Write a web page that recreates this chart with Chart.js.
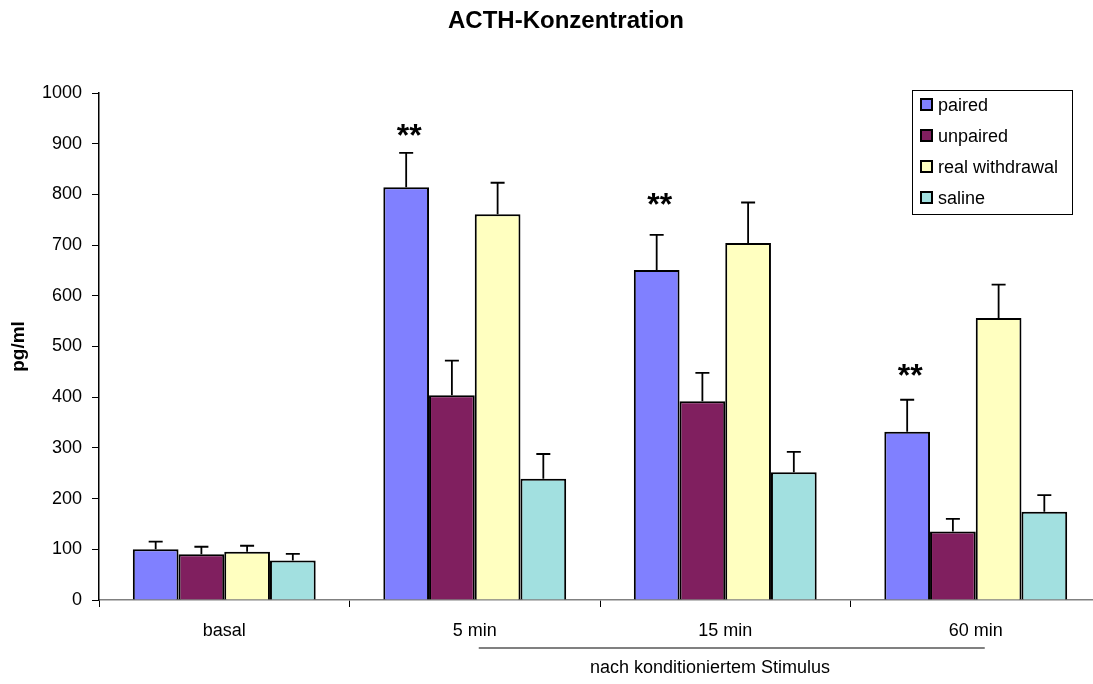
<!DOCTYPE html>
<html>
<head>
<meta charset="utf-8">
<script src="https://cdn.jsdelivr.net/npm/chart.js@4/dist/chart.umd.min.js"></script>
<style>
  html, body { margin: 0; padding: 0; background: #fff; overflow: hidden; }
  #wrap { width: 1110px; height: 684px; }
</style>
</head>
<body>
<div id="wrap"><canvas id="myChart"></canvas></div>
<script>
// Daten
var categories = ['basal', '5 min', '15 min', '60 min'];
var seriesNames = ['paired', 'unpaired', 'real withdrawal', 'saline'];
var paired = [100, 814, 651, 332];
var unpaired = [90, 404, 392, 135];
var realWithdrawal = [95, 761, 704, 556];
var saline = [78, 239, 252, 174];
// obere Fehlerbalken (SEM)
var pairedErr = [15, 68, 69, 63];
var unpairedErr = [15, 68, 56, 25];
var realWithdrawalErr = [12, 62, 80, 66];
var salineErr = [13, 49, 40, 33];
// Signifikanz-Sterne (Position als Wert auf der y-Achse)
var starLabels = ['', '**', '**', '**'];
var starValues = [null, 930, 795, 458];
var yTicks = [0, 100, 200, 300, 400, 500, 600, 700, 800, 900, 1000];

var colorSet = {
  paired: '#8080FF',
  unpaired: '#801F5F',
  real: '#FFFFC0',
  saline: '#A2E0E0'
};
var FONT = '"Liberation Sans", Arial, sans-serif';

function makeSet(label, data, err, color) {
  return {
    label: label,
    data: data,
    errors: err,
    backgroundColor: color,
    borderColor: '#000',
    borderWidth: 2,
    categoryPercentage: 0.73,
    barPercentage: 1.0
  };
}

// Fehlerbalken, Sterne, Titel, Legende, Beschriftung unten
var extras = {
  id: 'extras',
  afterDatasetsDraw: function(chart) {
    var ctx = chart.ctx;
    var y = chart.scales.y;
    var x = chart.scales.x;
    ctx.save();
    ctx.strokeStyle = '#000';
    ctx.lineWidth = 1.8;
    chart.data.datasets.forEach(function(ds, i) {
      var meta = chart.getDatasetMeta(i);
      meta.data.forEach(function(bar, j) {
        var top = y.getPixelForValue(ds.data[j] + ds.errors[j]);
        ctx.beginPath();
        ctx.moveTo(bar.x, bar.y);
        ctx.lineTo(bar.x, top);
        ctx.moveTo(bar.x - 7, top);
        ctx.lineTo(bar.x + 7, top);
        ctx.stroke();
      });
    });

    // Sterne über "paired"
    var pairedMeta = chart.getDatasetMeta(0);
    ctx.fillStyle = '#000';
    ctx.font = 'bold 32px ' + FONT;
    ctx.textAlign = 'center';
    ctx.textBaseline = 'alphabetic';
    starValues.forEach(function(v, j) {
      if (v === null) return;
      var bx = pairedMeta.data[j].x + 3;
      ctx.fillText(starLabels[j], bx, y.getPixelForValue(v) + 18);
    });

    // Titel
    ctx.font = 'bold 24px ' + FONT;
    ctx.textBaseline = 'middle';
    ctx.fillText('ACTH-Konzentration', 566, 21);

    // Legende
    ctx.lineWidth = 1;
    ctx.strokeRect(912.5, 90.5, 160, 124);
    ctx.font = '18px ' + FONT;
    ctx.textAlign = 'left';
    var rows = [105, 136, 167, 198];
    chart.data.datasets.forEach(function(ds, i) {
      ctx.fillStyle = ds.backgroundColor;
      ctx.fillRect(921, rows[i] - 6, 11, 11);
      ctx.lineWidth = 2;
      ctx.strokeRect(921, rows[i] - 6, 11, 11);
      ctx.fillStyle = '#000';
      ctx.fillText(ds.label, 938, rows[i] + 1);
    });

    // Klammer "nach konditioniertem Stimulus"
    var x1 = x.getPixelForValue(1) + 4;
    var x3 = x.getPixelForValue(3) + 9;
    ctx.strokeStyle = '#808080';
    ctx.lineWidth = 2;
    ctx.beginPath();
    ctx.moveTo(x1, 648);
    ctx.lineTo(x3, 648);
    ctx.stroke();
    ctx.fillStyle = '#000';
    ctx.textAlign = 'center';
    ctx.fillText('nach konditioniertem Stimulus', 710, 668);
    ctx.restore();
  }
};

var ctx = document.getElementById('myChart').getContext('2d');
var myChart = new Chart(ctx, {
  type: 'bar',
  data: {
    labels: categories,
    datasets: [
      makeSet(seriesNames[0], paired, pairedErr, colorSet.paired),
      makeSet(seriesNames[1], unpaired, unpairedErr, colorSet.unpaired),
      makeSet(seriesNames[2], realWithdrawal, realWithdrawalErr, colorSet.real),
      makeSet(seriesNames[3], saline, salineErr, colorSet.saline)
    ]
  },
  options: {
    responsive: true,
    maintainAspectRatio: false,
    animation: false,
    layout: { padding: { top: 93, right: 9, bottom: 44, left: 0 } },
    plugins: {
      legend: { display: false },
      title: { display: false },
      tooltip: { enabled: false }
    },
    scales: {
      x: {
        grid: { display: true, offset: true, drawOnChartArea: false, drawTicks: true, tickLength: 7, color: '#000', lineWidth: 1 },
        border: { display: true, color: '#808080', width: 1.5 },
        ticks: { color: '#000', font: { family: FONT, size: 18 }, padding: 13, maxRotation: 0 },
        afterFit: function(scale) { scale.height = 40; }
      },
      y: {
        min: 0,
        max: 1000,
        afterBuildTicks: function(scale) {
          scale.ticks = yTicks.map(function(v) { return { value: v }; });
        },
        grid: { drawOnChartArea: false, drawTicks: true, tickLength: 7, color: '#000' },
        border: { display: true, color: '#000', width: 1.5 },
        ticks: {
          color: '#000',
          font: { family: FONT, size: 18 },
          padding: 10,
          callback: function(value) { return String(value); }
        },
        title: { display: true, text: 'pg/ml', color: '#000', font: { family: FONT, size: 19, weight: 'bold' }, padding: { top: 7, bottom: 0 } },
        afterFit: function(scale) { scale.width = 99; }
      }
    }
  },
  plugins: [extras]
});
</script>
</body>
</html>
